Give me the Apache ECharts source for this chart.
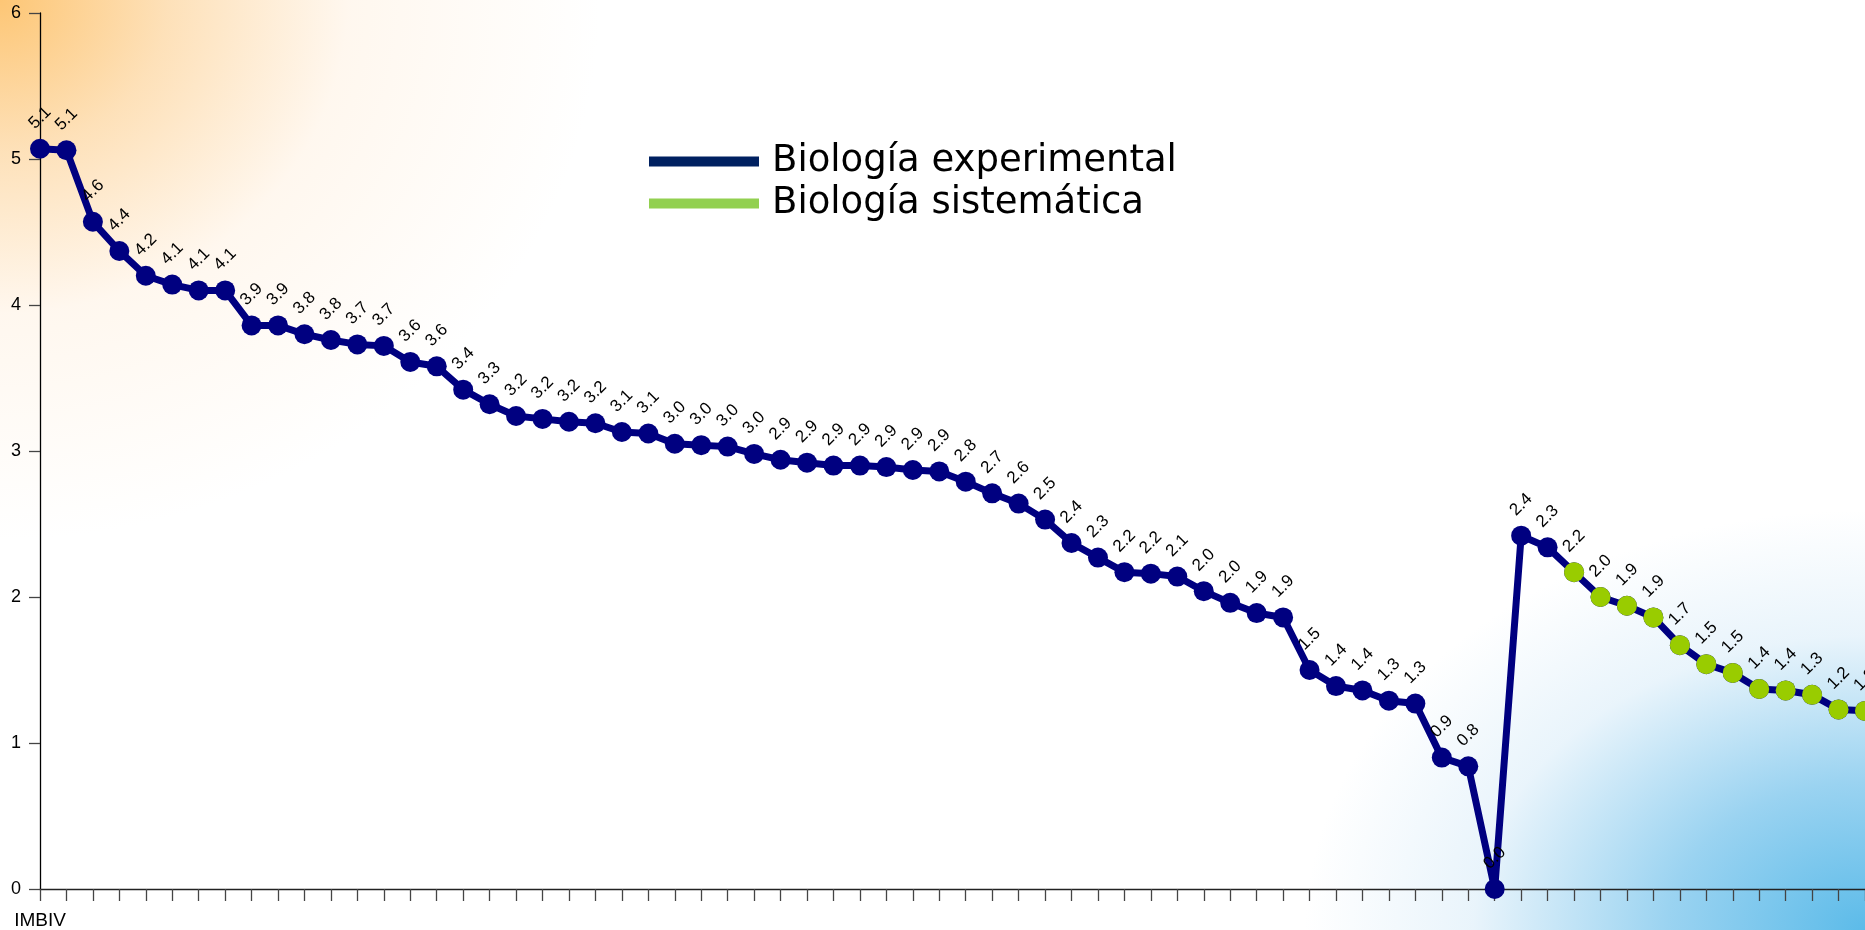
<!DOCTYPE html>
<html>
<head>
<meta charset="utf-8">
<script src="https://cdn.jsdelivr.net/npm/echarts@6/dist/echarts.min.js"></script>
<style>
  html, body { margin: 0; padding: 0; background: #ffffff; }
  #chart {
    width: 1865px; height: 930px;
    background:
      radial-gradient(ellipse 600px 540px at 0 0, #fdc675 0%, rgba(253,212,155,0.7) 28%, rgba(255,236,214,0.4) 58%, rgba(255,255,255,0) 100%),
      radial-gradient(ellipse 560px 420px at 100% 100%, #5cbbe9 0%, rgba(120,196,236,0.75) 35%, rgba(200,228,246,0.4) 70%, rgba(255,255,255,0) 100%),
      #ffffff;
  }
</style>
</head>
<body>
<div id="chart"></div>
<script>
// Biología experimental (first 58 institutes)
const expValues = [
  5.07, 5.06, 4.57, 4.37, 4.20, 4.14, 4.10, 4.10, 3.86, 3.86,
  3.80, 3.76, 3.73, 3.72, 3.61, 3.58, 3.42, 3.32, 3.24, 3.22,
  3.20, 3.19, 3.13, 3.12, 3.05, 3.04, 3.03, 2.98, 2.94, 2.92,
  2.90, 2.90, 2.89, 2.87, 2.86, 2.79, 2.71, 2.64, 2.53, 2.37,
  2.27, 2.17, 2.16, 2.14, 2.04, 1.96, 1.89, 1.86, 1.50, 1.39,
  1.36, 1.29, 1.27, 0.90, 0.84, 0.00, 2.42, 2.34
];
// Biología sistemática (last 12 institutes)
const sisValues = [2.17, 2.00, 1.94, 1.86, 1.67, 1.54, 1.48, 1.37, 1.36, 1.33, 1.23, 1.22];

const seriesNames = ['Biología experimental', 'Biología sistemática'];
const firstCategory = 'IMBIV';
const categories = [firstCategory].concat(Array(expValues.length + sisValues.length - 1).fill(''));
const yTicks = { min: 0, max: 6, interval: 1 };

const allValues = expValues.concat(sisValues);
const sisData = Array(expValues.length).fill(null).concat(sisValues);

const chart = echarts.init(document.getElementById('chart'), null, { renderer: 'canvas' });
chart.setOption({
  backgroundColor: 'transparent',
  animation: false,
  grid: { left: 40, right: 0, top: 13, bottom: 39, containLabel: false },
  legend: {
    orient: 'vertical',
    left: 644,
    top: 138,
    icon: 'rect',
    itemWidth: 110,
    itemHeight: 10,
    itemGap: 5,
    selectedMode: false,
    textStyle: { fontFamily: 'DejaVu Sans', fontSize: 37, color: '#000', padding: [0, 0, 0, 8] },
    data: [
      { name: seriesNames[0], itemStyle: { color: '#002060' } },
      { name: seriesNames[1], itemStyle: { color: '#92D050' } }
    ]
  },
  xAxis: {
    type: 'category',
    data: categories,
    boundaryGap: false,
    axisLine: { lineStyle: { color: '#222', width: 1.3 } },
    axisTick: { show: true, length: 12, interval: 0, lineStyle: { color: '#444', width: 1.3 } },
    axisLabel: { interval: 1000, margin: 22, fontFamily: 'Liberation Sans', fontSize: 19, color: '#000' },
    splitLine: { show: false }
  },
  yAxis: {
    type: 'value',
    min: yTicks.min, max: yTicks.max, interval: yTicks.interval,
    axisLine: { show: true, lineStyle: { color: '#000', width: 1.3 } },
    axisTick: { show: true, length: 11, lineStyle: { color: '#444', width: 1.3 } },
    axisLabel: { margin: 19, fontFamily: 'Liberation Sans', fontSize: 18, color: '#000' },
    splitLine: { show: false }
  },
  series: [
    {
      name: seriesNames[0],
      type: 'line',
      data: allValues,
      z: 2,
      symbol: 'circle',
      symbolSize: 20,
      showAllSymbol: true,
      lineStyle: { color: '#000080', width: 7 },
      itemStyle: { color: '#000080' },
      label: {
        show: true,
        position: 'top',
        distance: 21,
        rotate: 45,
        align: 'center',
        verticalAlign: 'middle',
        fontFamily: 'Liberation Sans',
        fontSize: 17,
        color: '#000',
        formatter: p => p.value.toFixed(1)
      },
      emphasis: { disabled: true }
    },
    {
      name: seriesNames[1],
      type: 'line',
      data: sisData,
      z: 3,
      symbol: 'circle',
      symbolSize: 20,
      showAllSymbol: true,
      lineStyle: { width: 0, opacity: 0 },
      itemStyle: { color: '#99CC00' },
      label: { show: false },
      emphasis: { disabled: true }
    }
  ]
});
</script>
</body>
</html>
